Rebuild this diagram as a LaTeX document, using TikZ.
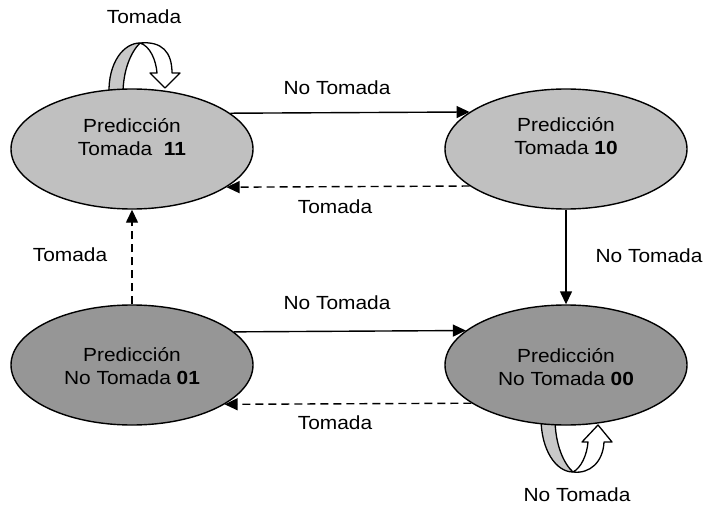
\documentclass[tikz,border=0pt]{standalone}
\usepackage{fontspec}
\setmainfont{Liberation Sans}[FakeStretch=1.1]
\usetikzlibrary{arrows.meta,shapes.geometric}
\definecolor{lightstate}{HTML}{C0C0C0}
\definecolor{darkstate}{HTML}{969696}
\definecolor{band}{HTML}{C8C8C8}

\begin{document}
\begin{tikzpicture}[x=1pt,y=-1pt,
  font=\fontsize{19}{23}\selectfont,
  state/.style={ellipse, draw=black, line width=1.4pt,
    minimum width=242pt, minimum height=120pt, inner sep=0pt},
  statetext/.style={align=center, inner sep=0pt},
  edge/.style={line width=1.4pt, -{Triangle[length=13pt,width=12pt]}},
  dashededge/.style={edge, dash pattern=on 8pt off 5pt},
  lbl/.style={inner sep=0pt},
  loopband/.style={draw=black, line width=1.3pt, line join=round}]
\useasboundingbox (0,0) rectangle (706,505);

% self loop above state 11
\path[loopband, fill=band] (109,94) .. controls (108,62) and (124,43) .. (140,43)
  .. controls (131,52) and (123,70) .. (123,94) -- cycle;
\path[loopband, fill=white] (140,43) .. controls (150,46) and (156,60) .. (157,73)
  -- (150,73) -- (165,88) -- (180,73) -- (172,73)
  .. controls (172,52) and (162,41) .. (140,43) -- cycle;

% self loop below state 00
\path[loopband, fill=band] (541,418) .. controls (541,450) and (556,472) .. (573,472)
  .. controls (564,464) and (555,445) .. (555,418) -- cycle;
\path[loopband, fill=white] (573,472) .. controls (581,468) and (587,455) .. (588,442)
  -- (582,442) -- (598,425) -- (612,442) -- (604,442)
  .. controls (603,462) and (590,474) .. (573,472) -- cycle;

% states
\node[state, fill=lightstate] (s11) at (132,149) {};
\node[state, fill=lightstate] (s10) at (566,149) {};
\node[state, fill=darkstate] (s01) at (132,365) {};
\node[state, fill=darkstate] (s00) at (566,365) {};

\node[statetext] (t11) at (132,137) {Predicción\\Tomada\ \ \textbf{11}};
\node[statetext] (t10) at (566,136) {Predicción\\Tomada \textbf{10}};
\node[statetext] (t01) at (132,366) {Predicción\\No Tomada \textbf{01}};
\node[statetext] (t00) at (566,367) {Predicción\\No Tomada \textbf{00}};

% transitions
\draw[edge] (s11.20.4) -- (s10.159.6);
\draw[dashededge] (s10.201.2) -- (s11.338.8);
\draw[edge] (s01.18.8) -- (s00.161.2);
\draw[dashededge] (s00.202.1) -- (s01.337.9);
\draw[edge] (s10.south) -- (s00.north);
\draw[dashededge] (s01.north) -- (s11.south);

% transition labels
\node[lbl] (l1) at (337,88) {No Tomada};
\node[lbl] (l2) at (335,207) {Tomada};
\node[lbl] (l3) at (337,303) {No Tomada};
\node[lbl] (l4) at (335,423) {Tomada};
\node[lbl] (l5) at (649,256) {No Tomada};
\node[lbl] (l6) at (70,255) {Tomada};
\node[lbl] (l7) at (144,17) {Tomada};
\node[lbl] (l8) at (577,495) {No Tomada};
\end{tikzpicture}
\end{document}
